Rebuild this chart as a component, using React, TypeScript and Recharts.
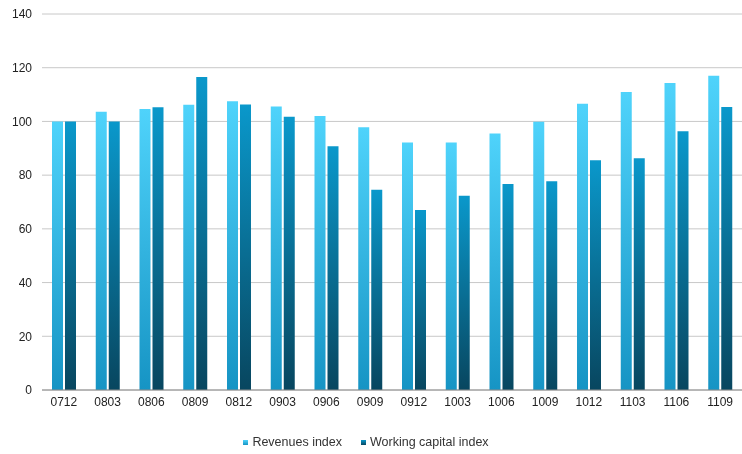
import { Bar, BarChart, CartesianGrid, Legend, XAxis, YAxis } from "recharts"

const periods = ["0712", "0803", "0806", "0809", "0812", "0903", "0906", "0909", "0912", "1003", "1006", "1009", "1012", "1103", "1106", "1109"]
const revenues = [100, 103.6, 104.6, 106.2, 107.5, 105.6, 102, 97.8, 92.2, 92.2, 95.5, 99.9, 106.6, 111, 114.3, 117]
const workingCapital = [100, 100, 105.3, 116.5, 106.3, 101.7, 90.8, 74.6, 67, 72.3, 76.7, 77.7, 85.5, 86.3, 96.3, 105.4]
const yTicks = [0, 20, 40, 60, 80, 100, 120, 140]

const data = periods.map((p, i) => ({ period: p, revenues: revenues[i], wc: workingCapital[i] }))

const font = "'Liberation Sans', Arial, sans-serif"

export default function App() {
  return (
    <div style={{ position: "fixed", left: 0, top: 0, fontFamily: font }}>
      <BarChart
        width={742}
        height={454}
        data={data}
        margin={{ top: 14, right: 0, left: 0, bottom: 0 }}
        barSize={11}
        barGap={2}
      >
        <defs>
          <linearGradient id="revGrad" x1="0" y1="0" x2="0" y2="1">
            <stop offset="0%" stopColor="#4fd3fb" />
            <stop offset="100%" stopColor="#1694c4" />
          </linearGradient>
          <linearGradient id="wcGrad" x1="0" y1="0" x2="0" y2="1">
            <stop offset="0%" stopColor="#0a98cb" />
            <stop offset="100%" stopColor="#08465f" />
          </linearGradient>
        </defs>
        <CartesianGrid vertical={false} stroke="#c8c8c8" />
        <XAxis
          dataKey="period"
          tickLine={false}
          axisLine={{ stroke: "#8a8a8a" }}
          tick={{ fill: "#222", fontSize: 12, fontFamily: font }}
          height={45}
          tickMargin={1}
        />
        <YAxis
          width={42}
          domain={[0, 140]}
          ticks={yTicks}
          tickLine={false}
          axisLine={false}
          tick={{ fill: "#222", fontSize: 12, fontFamily: font }}
          tickMargin={4}
        />
        <Legend
          verticalAlign="bottom"
          iconType="square"
          iconSize={5}
          height={19}
          wrapperStyle={{ fontSize: 12.5, fontFamily: font, color: "#333" }}
          formatter={(value, _entry, index) => (
            <span style={{ color: "#333", marginRight: index === 0 ? 9 : 0 }}>{value}</span>
          )}
        />
        <Bar dataKey="revenues" name="Revenues index" fill="url(#revGrad)" legendType="square" isAnimationActive={false} />
        <Bar dataKey="wc" name="Working capital index" fill="url(#wcGrad)" legendType="square" isAnimationActive={false} />
      </BarChart>
    </div>
  )
}
